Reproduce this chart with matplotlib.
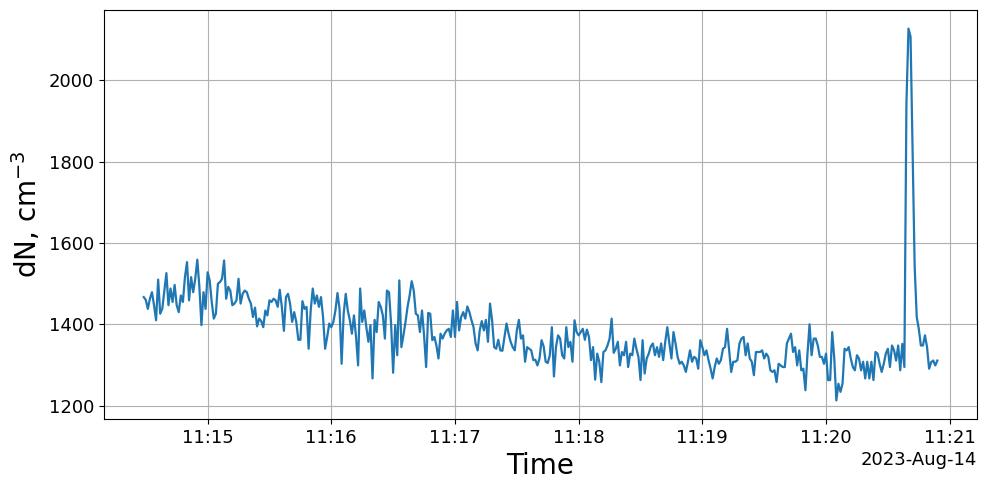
import matplotlib
matplotlib.use("Agg")
import matplotlib.pyplot as plt
import matplotlib.dates as mdates
import numpy as np
import pandas as pd

# particle number concentration, one reading per second
start_time = "2023-08-14 11:14:29"
dn_values = [
    # 11:14:29 ...
    1467, 1460, 1438, 1463, 1479, 1447, 1410, 1510, 1426, 1438, 1483, 1526, 1447, 1488, 1455, 1497, 1447,
    1430, 1471, 1455, 1516, 1553, 1459, 1516, 1479, 1512, 1559, 1492, 1398, 1479, 1438, 1528, 1508, 1455,
    1414, 1426, 1500, 1504, 1512, 1557, 1463, 1492, 1483, 1447, 1451, 1459, 1512, 1451, 1475, 1483,
    # ~11:15:20
    1479, 1463, 1451, 1418, 1441, 1395, 1414, 1408, 1393, 1434, 1422, 1459, 1455, 1463, 1459, 1443, 1485,
    1443, 1384, 1467, 1475, 1451, 1406, 1430, 1406, 1362, 1362, 1457, 1438, 1443, 1340, 1434, 1488, 1451,
    1471, 1443, 1467, 1418, 1340, 1369, 1402, 1393, 1406, 1434, 1477, 1438, 1303, 1426, 1475, 1434, 1410,
    1377,
    # ~11:16:10
    1422, 1369, 1299, 1488, 1406, 1434, 1393, 1357, 1398, 1267, 1411, 1381, 1455, 1443, 1422, 1365, 1483,
    1479, 1402, 1281, 1398, 1324, 1508, 1344, 1373, 1406, 1443, 1471, 1506, 1483, 1426, 1422, 1381, 1434,
    1373, 1295, 1428, 1426, 1361, 1369, 1348, 1316, 1377, 1365, 1377, 1385, 1389, 1369, 1434, 1369, 1455,
    1385,
    # ~11:17:00
    1418, 1430, 1414, 1444, 1430, 1410, 1393, 1353, 1336, 1385, 1408, 1385, 1411, 1357, 1451, 1410, 1344,
    1340, 1362, 1336, 1335, 1369, 1402, 1377, 1357, 1344, 1336, 1385, 1411, 1365, 1373, 1308, 1344, 1340,
    1336, 1312, 1313, 1299, 1316, 1361, 1346, 1308, 1305, 1324, 1393, 1272, 1344, 1373, 1365, 1324,
    # ~11:17:50
    1316, 1393, 1344, 1357, 1308, 1410, 1381, 1373, 1381, 1389, 1362, 1387, 1369, 1312, 1344, 1264, 1328,
    1308, 1258, 1332, 1336, 1348, 1365, 1414, 1330, 1340, 1357, 1299, 1332, 1324, 1357, 1295, 1328, 1324,
    1365, 1340, 1320, 1263, 1361, 1279, 1316, 1328, 1346, 1353, 1324, 1344, 1320, 1353, 1312, 1357,
    # ~11:18:40
    1393, 1353, 1316, 1381, 1353, 1320, 1303, 1308, 1299, 1283, 1308, 1336, 1308, 1320, 1316, 1291, 1361,
    1344, 1324, 1336, 1312, 1291, 1267, 1295, 1316, 1303, 1312, 1340, 1344, 1389, 1336, 1283, 1308, 1308,
    1312, 1353, 1365, 1369, 1324, 1353, 1316, 1308, 1275, 1332, 1332, 1332, 1336, 1316, 1328, 1320, 1287,
    1283,
    # ~11:19:30
    1287, 1258, 1303, 1299, 1295, 1295, 1353, 1365, 1377, 1332, 1344, 1299, 1336, 1287, 1291, 1238, 1328,
    1400, 1324, 1365, 1365, 1348, 1320, 1320, 1303, 1328, 1263, 1263, 1381, 1316, 1213, 1254, 1234, 1254,
    1340, 1336, 1344, 1316, 1295, 1287, 1324, 1316, 1287, 1308, 1267, 1308, 1267, 1308, 1263, 1332, 1328,
    1303,
    # ~11:20:25
    1283, 1303, 1328, 1340, 1295, 1348, 1336, 1311, 1348, 1287, 1352, 1295, 1943, 2127, 2107, 1820,
    1541, 1418, 1389, 1348, 1348, 1373, 1344, 1291, 1307, 1311, 1299, 1311,
]

times = pd.date_range(start_time, periods=len(dn_values), freq="1s")

fig, ax = plt.subplots(figsize=(9.87, 4.9), dpi=100)
ax.plot(times, dn_values, color="tab:blue", lw=1.6)

locator = mdates.MinuteLocator()
ax.xaxis.set_major_locator(locator)
ax.xaxis.set_major_formatter(mdates.ConciseDateFormatter(locator))

ax.set_xlabel("Time", fontsize=20)
ax.set_ylabel("dN, cm$^{-3}$", fontsize=20)
ax.tick_params(labelsize=13)
ax.xaxis.get_offset_text().set_fontsize(13)
ax.grid(True)

fig.subplots_adjust(left=0.1054, right=0.9899, top=0.9796, bottom=0.1449)
plt.savefig("out.png")
